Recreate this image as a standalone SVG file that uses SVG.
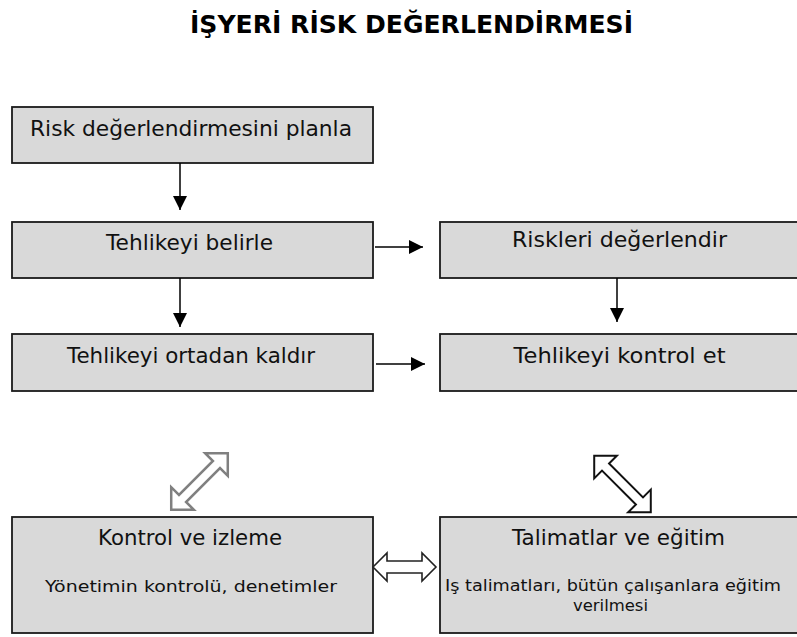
<svg xmlns="http://www.w3.org/2000/svg" width="797" height="637" viewBox="0 0 797 637">
<style>
.box{fill:#d9d9d9;stroke:#1a1a1a;stroke-width:1.8}
.t{font-family:"DejaVu Sans","Liberation Sans",sans-serif;font-size:21px;fill:#111;text-anchor:middle}
.s{font-family:"DejaVu Sans","Liberation Sans",sans-serif;font-size:16px;fill:#111;text-anchor:middle}
.title{font-family:"DejaVu Sans","Liberation Sans",sans-serif;font-size:24px;font-weight:bold;fill:#000;text-anchor:middle}
.con{stroke:#000;stroke-width:1.5;fill:none}
</style>
<defs>
<marker id="ah" markerUnits="userSpaceOnUse" markerWidth="14" markerHeight="14" refX="14" refY="7" orient="auto">
<path d="M0,0 L14,7 L0,14 z" fill="#000"/>
</marker>
<path id="dbl" d="M-40,0 L-24,-16 L-24,-5 L24,-5 L24,-16 L40,0 L24,16 L24,5 L-24,5 L-24,16 z"/>
</defs>
<rect width="797" height="637" fill="#fff"/>
<text class="title" x="411.5" y="33" textLength="443" lengthAdjust="spacingAndGlyphs">İŞYERİ RİSK DEĞERLENDİRMESİ</text>

<g id="n1"><rect class="box" x="12" y="107" width="361" height="56"/><text class="t" x="191" y="136" textLength="322" lengthAdjust="spacingAndGlyphs">Risk değerlendirmesini planla</text></g>
<g id="n2"><rect class="box" x="12" y="222" width="361" height="56"/><text class="t" x="189.5" y="250" textLength="167" lengthAdjust="spacingAndGlyphs">Tehlikeyi belirle</text></g>
<g id="n3"><rect class="box" x="12" y="334" width="361" height="57"/><text class="t" x="191" y="363" textLength="248" lengthAdjust="spacingAndGlyphs">Tehlikeyi ortadan kaldır</text></g>
<g id="n4"><rect class="box" x="440" y="222" width="362" height="56"/><text class="t" x="619.5" y="247" textLength="215" lengthAdjust="spacingAndGlyphs">Riskleri değerlendir</text></g>
<g id="n5"><rect class="box" x="440" y="334" width="362" height="57"/><text class="t" x="619.5" y="363" textLength="212" lengthAdjust="spacingAndGlyphs">Tehlikeyi kontrol et</text></g>
<g id="n6"><rect class="box" x="12" y="517" width="361" height="116"/><text class="t" x="190" y="545" textLength="184" lengthAdjust="spacingAndGlyphs">Kontrol ve izleme</text><text class="s" x="191" y="592" textLength="292" lengthAdjust="spacingAndGlyphs">Yönetimin kontrolü, denetimler</text></g>
<g id="n7"><rect class="box" x="440" y="517" width="362" height="116"/><text class="t" x="618.5" y="545" textLength="213" lengthAdjust="spacingAndGlyphs">Talimatlar ve eğitim</text><text class="s" x="613" y="591" textLength="336" lengthAdjust="spacingAndGlyphs">Iş talimatları, bütün çalışanlara eğitim</text><text class="s" x="610.5" y="611" textLength="75" lengthAdjust="spacingAndGlyphs">verilmesi</text></g>

<g id="connectors">
<line class="con" x1="180" y1="163" x2="180" y2="210" marker-end="url(#ah)"/>
<line class="con" x1="180" y1="278" x2="180" y2="327" marker-end="url(#ah)"/>
<line class="con" x1="617" y1="278" x2="617" y2="322" marker-end="url(#ah)"/>
<line class="con" x1="375" y1="247" x2="423" y2="247" marker-end="url(#ah)"/>
<line class="con" x1="376" y1="364" x2="425" y2="364" marker-end="url(#ah)"/>
<use href="#dbl" transform="translate(199.5,481.5) rotate(-45)" fill="#fff" stroke="#808080" stroke-width="2.5"/>
<use href="#dbl" transform="translate(622.5,484) rotate(45)" fill="#fff" stroke="#111" stroke-width="2"/>
<path d="M373,567 L387,553 L387,561 L422,561 L422,553 L436,567 L422,581 L422,573 L387,573 L387,581 z" fill="#fff" stroke="#222" stroke-width="1.6"/>
</g>
</svg>
